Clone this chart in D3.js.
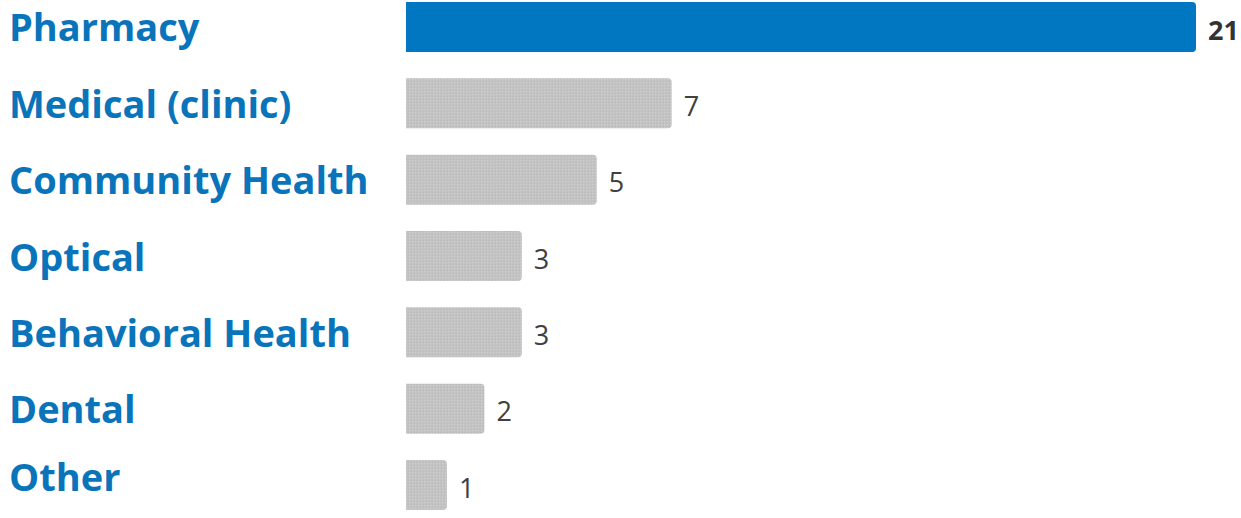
<!DOCTYPE html>
<html>
<head>
<meta charset="utf-8">
<script src="https://cdn.jsdelivr.net/npm/d3@7"></script>
<style>
  html, body { margin: 0; padding: 0; background: #fff; }
  svg { display: block; }
</style>
</head>
<body>
<svg id="chart" width="1241" height="518"></svg>
<script>
// Service categories and counts
const categories = ["Pharmacy", "Medical (clinic)", "Community Health", "Optical", "Behavioral Health", "Dental", "Other"];
const counts = [21, 7, 5, 3, 3, 2, 1];
const highlighted = ["Pharmacy"];

const width = 1241, height = 518;
const svg = d3.select("#chart");

const defs = svg.append("defs");
// fine mesh texture used on the grey bars
const pat = defs.append("pattern")
  .attr("id", "mesh").attr("width", 3).attr("height", 3)
  .attr("patternUnits", "userSpaceOnUse");
pat.append("rect").attr("width", 3).attr("height", 3).attr("fill", "#c3c3c3");
pat.append("rect").attr("x", 1).attr("y", 1).attr("width", 1).attr("height", 1).attr("fill", "#d0d0d0");
pat.append("rect").attr("x", 0).attr("y", 0).attr("width", 1).attr("height", 1).attr("fill", "#b9b9b9");

const x = d3.scaleLinear().domain([0, d3.max(counts)]).range([409.5, 1196]);
const y = d3.scaleBand().domain(categories).range([2, 510]).paddingInner(0.345).paddingOuter(0);

// bars carry a small stub before the zero line
const barStart = x(0) - 3.5;
const r = 4;

function barPath(x0, x1, y0, h) {
  const rr = Math.min(r, (x1 - x0) / 2);
  return `M${x0},${y0}H${x1 - rr}Q${x1},${y0} ${x1},${y0 + rr}V${y0 + h - rr}Q${x1},${y0 + h} ${x1 - rr},${y0 + h}H${x0}Z`;
}

const rows = categories.map((c, i) => ({ cat: c, value: counts[i], hi: highlighted.includes(c) }));

// bars
svg.append("g").selectAll("path").data(rows).join("path")
  .attr("d", d => barPath(barStart, x(d.value), y(d.cat), y.bandwidth()))
  .attr("fill", d => d.hi ? "#0077c0" : "url(#mesh)");

// category labels
svg.append("g").selectAll("text").data(rows).join("text")
  .attr("x", 9)
  .attr("y", (d, i) => y(d.cat) + y.bandwidth() / 2 + 14.5 - (i === rows.length - 1 ? 9 : 0))
  .attr("font-family", "'Open Sans', sans-serif")
  .attr("font-weight", 700)
  .attr("font-size", 38)
  .attr("fill", "#0a74bb")
  .text(d => d.cat);

// value labels
svg.append("g").selectAll("text").data(rows).join("text")
  .attr("x", d => x(d.value) + 12)
  .attr("y", d => y(d.cat) + y.bandwidth() / 2 + 12.7)
  .attr("font-family", "'Open Sans', sans-serif")
  .attr("font-weight", d => d.hi ? 700 : 400)
  .attr("font-size", 27)
  .attr("fill", d => d.hi ? "#333333" : "#404040")
  .text(d => d.value);
</script>
</body>
</html>
